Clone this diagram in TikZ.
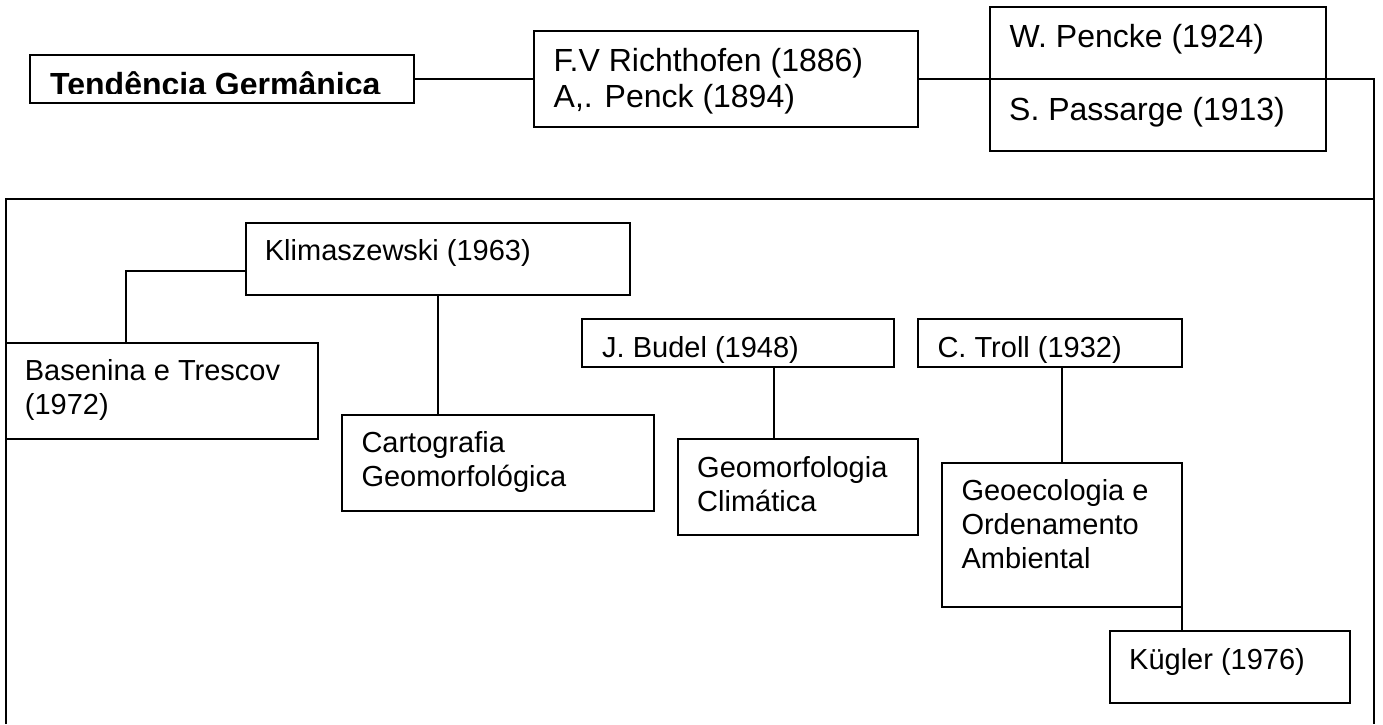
\documentclass[tikz,border=0pt]{standalone}
\usepackage{fontspec}
\setmainfont{Liberation Sans}
\usetikzlibrary{calc}
\begin{document}
\begin{tikzpicture}[x=1pt,y=-1pt,
  box/.style={draw, line width=1.7pt, rectangle, inner sep=0pt, outer sep=0pt, anchor=north west},
  txt/.style={anchor=base west, inner sep=0pt, font=\fontsize{29}{34}\selectfont},
  bigtxt/.style={anchor=base west, inner sep=0pt, font=\fontsize{32}{36.8}\selectfont},
  conn/.style={draw, line width=1.7pt}]
\useasboundingbox (0,0) rectangle (1383,724);

% outer frame (cut by the bottom edge)
\coordinate (frTL) at (5.7,199);
\coordinate (frTR) at (1374.3,199);
\coordinate (frBL) at (5.7,724);
\coordinate (frBR) at (1374.3,724);

% boxes
\node[box, minimum width=384pt, minimum height=48pt] (tg) at (30,55) {};
\node[box, minimum width=384pt, minimum height=96pt] (fv) at (533.7,31) {};
\node[box, minimum width=336pt, minimum height=72pt] (wp) at (989.7,7) {};
\node[box, minimum width=336pt, minimum height=72pt] (sp) at (989.7,79) {};
\node[box, minimum width=384pt, minimum height=72pt] (kl) at (245.7,222.7) {};
\node[box, minimum width=312pt, minimum height=96pt] (bt) at (6,342.7) {};
\node[box, minimum width=312pt, minimum height=96pt] (cg) at (341.7,414.7) {};
\node[box, minimum width=312pt, minimum height=48pt] (jb) at (581.7,319) {};
\node[box, minimum width=264pt, minimum height=48pt] (ct) at (917.7,319) {};
\node[box, minimum width=240pt, minimum height=96pt] (gc) at (677.7,439.3) {};
\node[box, minimum width=240pt, minimum height=144pt] (ge) at (942,462.7) {};
\node[box, minimum width=240pt, minimum height=72pt] (kg) at (1109.7,631) {};

% texts
\begin{scope}
  \clip (tg.north west) rectangle ([yshift=10pt]tg.south east);
  \node[bigtxt, font=\fontsize{32}{36.8}\selectfont\bfseries] (tgt) at (50,95) {Tendência Germânica};
\end{scope}
\node[bigtxt] (fvt) at (553.5,71) {\begin{tabular}[t]{@{}l@{}}F.V Richthofen (1886)\\A,. Penck (1894)\end{tabular}};
\node[bigtxt] (wpt) at (1009.5,47.7) {W. Pencke (1924)};
\node[bigtxt] (spt) at (1009,120) {S. Passarge (1913)};
\node[txt] (klt) at (264.7,260.7) {Klimaszewski (1963)};
\node[txt] (btt) at (24.7,380.3) {\begin{tabular}[t]{@{}l@{}}Basenina e Trescov\\(1972)\end{tabular}};
\node[txt] (cgt) at (361.3,452.7) {\begin{tabular}[t]{@{}l@{}}Cartografia\\Geomorfológica\end{tabular}};
\begin{scope}
  \clip (jb.north west) rectangle ([yshift=5pt]jb.south east);
  \node[txt] (jbt) at (602,357.5) {J. Budel (1948)};
\end{scope}
\begin{scope}
  \clip (ct.north west) rectangle ([yshift=5pt]ct.south east);
  \node[txt] (ctt) at (937.3,357.5) {C. Troll (1932)};
\end{scope}
\node[txt] (gct) at (697,477) {\begin{tabular}[t]{@{}l@{}}Geomorfologia\\Climática\end{tabular}};
\node[txt] (get) at (961.3,500.7) {\begin{tabular}[t]{@{}l@{}}Geoecologia e\\Ordenamento\\Ambiental\end{tabular}};
\node[txt] (kgt) at (1129,669.3) {Kügler (1976)};

% connectors
\draw[conn] (frBL) -- (frTL) -- (frTR) -- (frBR);
\draw[conn] (tg.east) -- (fv.west);
\draw[conn] (fv.east) -| (frTR);
\coordinate (klW) at ([yshift=-12.3pt]kl.west);
\coordinate (btN) at ([xshift=-36pt]bt.north);
\draw[conn] (klW) -| (btN);
\draw[conn] (kl.south) -- (kl.south |- cg.north);
\coordinate (jbS) at ([xshift=36pt]jb.south);
\draw[conn] (jbS) -- (jbS |- gc.north);
\draw[conn] (ct.south -| ge.north) -- (ge.north);
\draw[conn] (ge.south east) -- (ge.south east |- kg.north);
\end{tikzpicture}
\end{document}
